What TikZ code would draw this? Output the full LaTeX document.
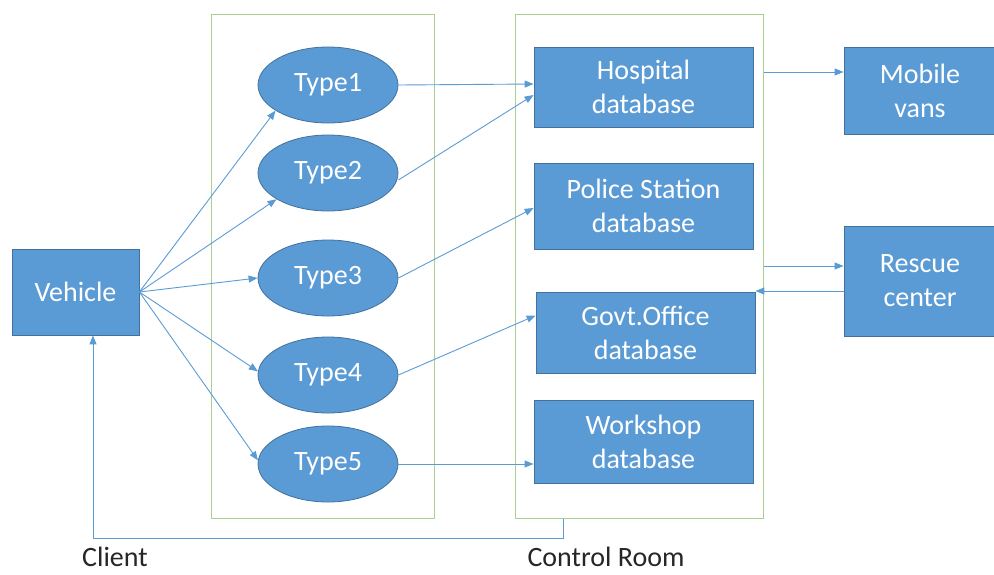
\documentclass[tikz,border=0pt]{standalone}
\usepackage{fontspec}
\setmainfont{Carlito}
\usetikzlibrary{shapes.geometric,arrows.meta,calc}
\definecolor{boxblue}{RGB}{91,155,213}
\definecolor{boxedge}{RGB}{65,113,156}
\definecolor{grp}{RGB}{169,209,142}
\definecolor{lineblue}{RGB}{91,155,213}
\tikzset{
  bluebox/.style={draw=boxedge,line width=0.8pt,fill=boxblue,text=white,align=center,inner sep=0pt,font=\fontsize{28}{34}\selectfont},
  typeell/.style={ellipse,draw=boxedge,line width=0.8pt,fill=boxblue,text=white,inner sep=0pt,minimum width=140pt,minimum height=76pt,font=\fontsize{28}{34}\selectfont},
  grpbox/.style={draw=grp,line width=1pt,inner sep=0pt},
  conn/.style={draw=lineblue,line width=0.9pt,-{Triangle[length=9pt,width=7pt]}},
  lbl/.style={font=\fontsize{28}{34}\selectfont,text=black!85}
}
\begin{document}
\begin{tikzpicture}[x=1pt,y=-1pt]
\useasboundingbox (0,0) rectangle (994,574);
% group boxes
\node[grpbox,minimum width=223pt,minimum height=504pt] (cl) at (322.5,266) {};
\node[grpbox,minimum width=248pt,minimum height=504pt] (cr) at (639,266) {};
% vehicle
\node[bluebox,minimum width=127pt,minimum height=86pt] (veh) at (75.5,292) {Vehicle};
% types
\node[typeell] (t1) at (328,85) {Type1};
\node[typeell] (t2) at (328,173) {Type2};
\node[typeell] (t3) at (328,278) {Type3};
\node[typeell] (t4) at (328,375) {Type4};
\node[typeell] (t5) at (328,464) {Type5};
% databases
\node[bluebox,minimum width=219pt,minimum height=80pt] (hosp) at (643.5,87) {Hospital\\database};
\node[bluebox,minimum width=219pt,minimum height=86pt] (pol) at (643.5,206) {Police Station\\database};
\node[bluebox,minimum width=219pt,minimum height=81pt] (gov) at (645.5,332.5) {Govt.Office\\database};
\node[bluebox,minimum width=219pt,minimum height=83pt] (work) at (643.5,441.5) {Workshop\\database};
% right boxes
\node[bluebox,minimum width=152pt,minimum height=87pt] (mob) at (920,90.5) {Mobile\\vans};
\node[bluebox,minimum width=152pt,minimum height=110pt] (res) at (920,281) {Rescue\\center};
% labels
\node[lbl] (lc) at (115,557) {Client};
\node[lbl] (lr) at (606,557) {Control Room};
% connectors vehicle -> types
\draw[conn] (veh.east) -- (t1.206);
\draw[conn] (veh.east) -- (t2.207);
\draw[conn] (veh.east) -- (t3.west);
\draw[conn] (veh.east) -- (t4.177);
\draw[conn] (veh.east) -- (t5.177);
% types -> databases
\draw[conn] (t1.east) -- ([yshift=3pt]hosp.west);
\draw[conn] (t2.east |- 0,180) -- ([yshift=-8pt]hosp.west);
\draw[conn] (t3.east) -- ([yshift=-2pt]pol.west);
\draw[conn] (t4.east) -- ([yshift=17pt]gov.west);
\draw[conn] (t5.east) -- (t5.east -| work.west);
% control room -> mobile vans
\draw[conn] (cr.east |- 0,72) -- (mob.west |- 0,72);
% control room <-> rescue
\draw[conn] (cr.east |- 0,266) -- (res.west |- 0,266);
\draw[conn] (res.west |- 0,291) -- (gov.east |- 0,291);
% feedback loop
\coordinate (fb) at (563,538);
\coordinate (fbl) at (93,538);
\draw[conn] (cr.south -| fb) -- (fb) -- (fbl) -- (veh.south -| fbl);
\end{tikzpicture}
\end{document}
